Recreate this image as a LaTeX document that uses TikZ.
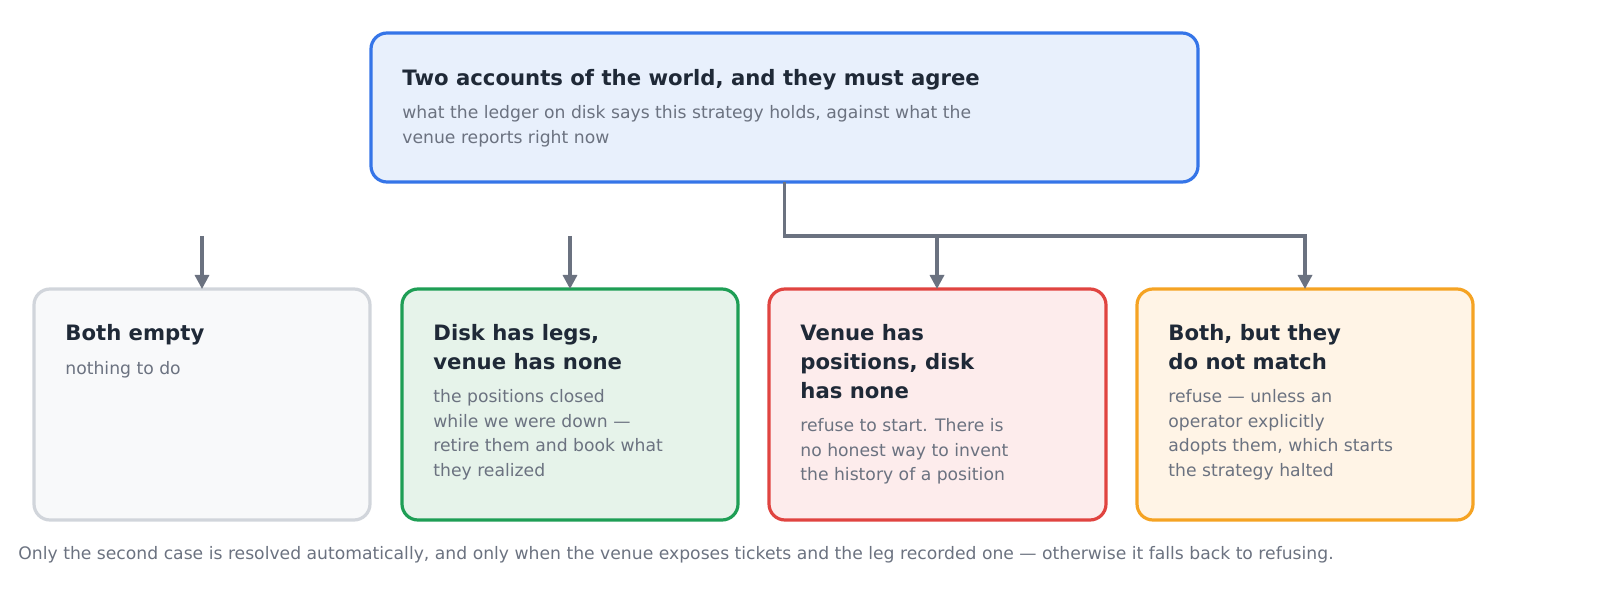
\documentclass[tikz,border=0pt]{standalone}
\usepackage{fontspec}
\setmainfont{DejaVu Sans}
\usetikzlibrary{arrows.meta}
\definecolor{ink}{HTML}{1F2937}
\definecolor{mut}{HTML}{6B7280}
\begin{document}
\begin{tikzpicture}[x=0.5pt,y=-0.5pt,
  box/.style={draw=#1,line width=1.6pt,rounded corners=8pt},
  ttl/.style={anchor=north west,inner sep=0,align=left,text=ink,font=\fontsize{10.6}{14.5}\selectfont\bfseries},
  bdy/.style={anchor=north west,inner sep=0,align=left,text=mut,font=\fontsize{8.6}{12.3}\selectfont},
  arr/.style={draw=mut,line width=1.6pt,-{Triangle[length=7pt,width=7pt]}}]
\path[box=gray,fill={rgb,255:red,232;green,240;blue,252},draw={rgb,255:red,53;green,117;blue,232}] (371,33) rectangle (1198,182);
\node (top) at (784.5,107.5) [minimum width=413pt,minimum height=74pt] {};
\node[ttl] (t0) at (402,69) {Two accounts of the world, and they must agree};
\node[bdy] (b0) at (402,105) {what the ledger on disk says this strategy holds, against what the\\venue reports right now};
\path[box=gray,fill={rgb,255:red,248;green,249;blue,250},draw={rgb,255:red,209;green,213;blue,219}] (34,289) rectangle (370,520);
\path[box=gray,fill={rgb,255:red,230;green,243;blue,234},draw={rgb,255:red,30;green,158;blue,85}] (402,289) rectangle (738,520);
\path[box=gray,fill={rgb,255:red,253;green,236;blue,236},draw={rgb,255:red,224;green,68;blue,64}] (769,289) rectangle (1106,520);
\path[box=gray,fill={rgb,255:red,255;green,244;blue,230},draw={rgb,255:red,245;green,163;blue,35}] (1137,289) rectangle (1473,520);
\coordinate (a1) at (202,289); \coordinate (a2) at (570,289);
\coordinate (a3) at (937,289); \coordinate (a4) at (1305,289);
\coordinate (s1) at (202,236); \coordinate (s2) at (570,236);
\node[ttl] at (65,324) {Both empty};
\node[bdy] at (65,361) {nothing to do};
\node[ttl] at (433,324) {Disk has legs,\\venue has none};
\node[bdy] at (433,389) {the positions closed\\while we were down —\\retire them and book what\\they realized};
\node[ttl] at (800,324) {Venue has\\positions, disk\\has none};
\node[bdy] at (800,418) {refuse to start. There is\\no honest way to invent\\the history of a position};
\node[ttl] at (1168,324) {Both, but they\\do not match};
\node[bdy] at (1168,389) {refuse — unless an\\operator explicitly\\adopts them, which starts\\the strategy halted};
\node[bdy] at (18,546) {Only the second case is resolved automatically, and only when the venue exposes tickets and the leg recorded one — otherwise it falls back to refusing.};
\draw[arr] (s1) -- (a1);
\draw[arr] (s2) -- (a2);
\draw[arr] (top.south) |- (937,236) -- (a3);
\draw[arr] (top.south) |- (1305,236) -- (a4);
\pgfresetboundingbox
\useasboundingbox (0,0) rectangle (1600,604);
\end{tikzpicture}
\end{document}
